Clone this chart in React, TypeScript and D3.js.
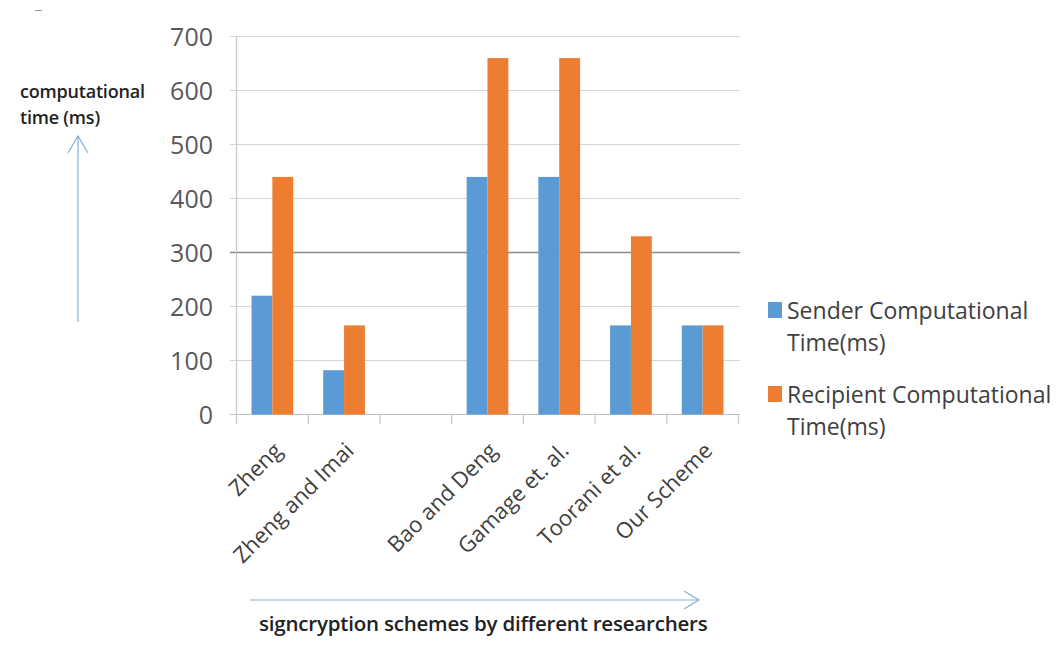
import React, { useEffect } from 'react';
import * as d3 from 'd3';

const categories = ['Zheng', 'Zheng and Imai', '', 'Bao and Deng', 'Gamage et. al.', 'Toorani et al.', 'Our Scheme'];
const senderTimes = [220, 82, 0, 440, 440, 165, 165];
const recipientTimes = [440, 165, 0, 660, 660, 330, 165];
const yTicks = [0, 100, 200, 300, 400, 500, 600, 700];
const seriesKeys = ['sender', 'recipient'];
const legendLines = [
  ['Sender Computational', 'Time(ms)'],
  ['Recipient Computational', 'Time(ms)'],
];
const colors = ['#5b9bd5', '#ed7d31'];

const W = 1063;
const H = 646;
const FONT = '"Open Sans", "Noto Sans", sans-serif';

const App: React.FC = () => {
  useEffect(() => {
    document.body.style.margin = '0';
  }, []);

  const x = d3.scaleBand<number>()
    .domain(categories.map((_, i) => i))
    .range([236.5, 738.5]);
  const bw = x.bandwidth();
  const x1 = d3.scaleBand<string>()
    .domain(seriesKeys)
    .range([15, bw - 15]);
  const y = d3.scaleLinear().domain([0, 700]).range([414.5, 36.5]);

  const values = [senderTimes, recipientTimes];
  const arrowColor = '#7fb1e0';

  return (
    <svg width={W} height={H} style={{ display: 'block', background: '#fff' }} fontFamily={FONT}>
      {/* stray dash top-left */}
      <line x1={35} x2={42} y1={10.5} y2={10.5} stroke="#999" strokeWidth={1} />

      {/* gridlines */}
      {yTicks.map(t => (
        <line key={t} x1={230} x2={740} y1={y(t)} y2={y(t)}
          stroke={t === 300 ? '#8a8a8a' : t === 0 ? '#bfbfbf' : '#d4d4d4'} strokeWidth={t === 300 ? 1.3 : 1.2} />
      ))}
      {/* y axis line */}
      <line x1={236.5} x2={236.5} y1={y(700)} y2={424} stroke="#c8c8c8" strokeWidth={1.2} />
      {/* x ticks */}
      {categories.map((_, i) => (
        <line key={i} x1={x(i)! + bw} x2={x(i)! + bw} y1={y(0)} y2={424} stroke="#c8c8c8" strokeWidth={1.2} />
      ))}

      {/* y tick labels */}
      {yTicks.map(t => (
        <text key={t} x={213} y={y(t)} dy="0.36em" textAnchor="end" fontSize={25} fill="#595959">{t}</text>
      ))}

      {/* bars */}
      {categories.map((c, i) => (
        <g key={i} transform={`translate(${x(i)},0)`}>
          {seriesKeys.map((k, j) => (
            <rect key={k} x={x1(k)} width={x1.bandwidth()} y={y(values[j][i])}
              height={y(0) - y(values[j][i])} fill={colors[j]} />
          ))}
        </g>
      ))}

      {/* x tick labels */}
      {categories.map((c, i) => (
        <text key={i} textAnchor="end" fontSize={22} fill="#404040"
          transform={`translate(${x(i)! + bw / 2 + 11},${452}) rotate(-45)`}>{c}</text>
      ))}

      {/* legend */}
      {legendLines.map((lines, j) => (
        <g key={j} transform={`translate(768,${302 + j * 84})`}>
          <rect x={0} y={0} width={14} height={16} fill={colors[j]} />
          {lines.map((l, k) => (
            <text key={k} x={19} y={17 + k * 32} fontSize={23} fill="#404040">{l}</text>
          ))}
        </g>
      ))}

      {/* vertical annotation */}
      <text x={20} y={98} fontSize={18} fontWeight={600} fill="#222" letterSpacing={-0.2}>computational</text>
      <text x={20} y={124} fontSize={18} fontWeight={600} fill="#222" letterSpacing={-0.2}>time (ms)</text>
      <line x1={78} x2={78} y1={322} y2={136} stroke={arrowColor} strokeWidth={1.2} />
      <polyline points="68,153 78,136 88,153" fill="none" stroke={arrowColor} strokeWidth={1.2} />

      {/* horizontal annotation */}
      <line x1={250} x2={699} y1={600} y2={600} stroke={arrowColor} strokeWidth={1.2} />
      <polyline points="684,591 699,600 684,609" fill="none" stroke={arrowColor} strokeWidth={1.2} />
      <text x={259} y={631} fontSize={20.5} fontWeight={600} fill="#222" letterSpacing={-0.2}>signcryption schemes by different researchers</text>
    </svg>
  );
};

export default App;
